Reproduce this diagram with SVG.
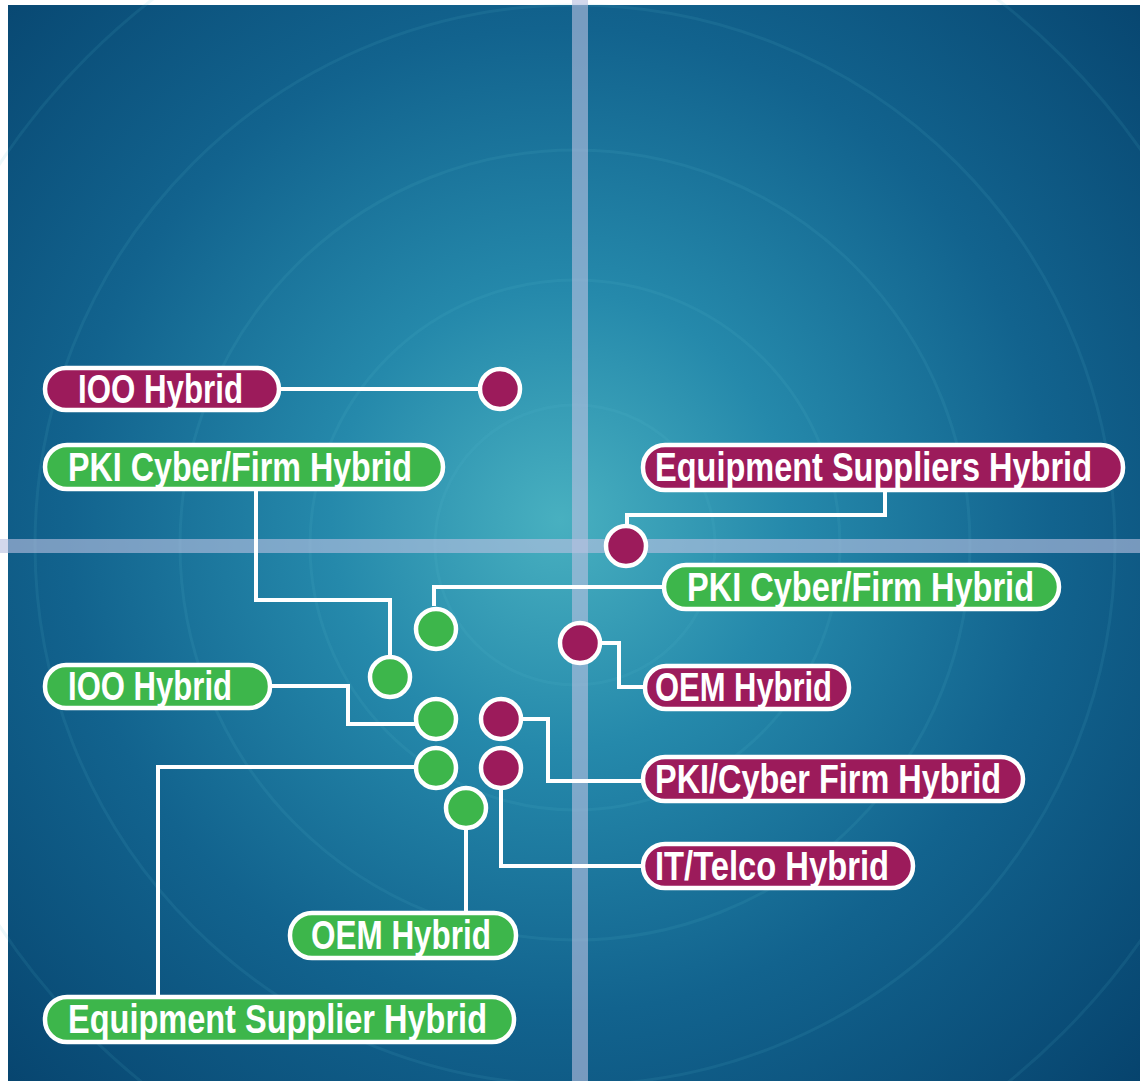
<svg xmlns="http://www.w3.org/2000/svg" width="1140" height="1081" viewBox="0 0 1140 1081">
<defs>
<radialGradient id="bg" gradientUnits="userSpaceOnUse" cx="560" cy="520" r="820">
<stop offset="0" stop-color="#48b0c0"/>
<stop offset="0.28" stop-color="#2589ab"/>
<stop offset="0.6" stop-color="#12638e"/>
<stop offset="1" stop-color="#06426c"/>
</radialGradient>
<style>
.ring{fill:none;stroke:#5cc0d6;stroke-opacity:0.11;stroke-width:3}
.bar{fill:#b8c0e0;fill-opacity:0.62}
.p{fill:#9c1b5b;stroke:#ffffff;stroke-width:4.5}
.g{fill:#3db64b;stroke:#ffffff;stroke-width:4.5}
.t{fill:#ffffff;font-family:"Liberation Sans",Arial,sans-serif;font-weight:bold;font-size:40px}
.c{fill:none;stroke:#ffffff;stroke-width:4;stroke-linejoin:miter}
</style>
</defs>
<rect x="0" y="0" width="1140" height="1081" fill="#ffffff"/>
<rect x="8" y="5" width="1132" height="1076" fill="url(#bg)"/>
<g id="rings">
<circle class="ring" cx="575" cy="545" r="140"/>
<circle class="ring" cx="575" cy="545" r="265"/>
<circle class="ring" cx="575" cy="545" r="395"/>
<circle class="ring" cx="575" cy="545" r="540"/>
<circle class="ring" cx="575" cy="545" r="690"/>
</g>
<g id="axes">
<rect class="bar" x="572" y="0" width="16" height="1081"/>
<rect class="bar" x="0" y="539" width="1140" height="14"/>
</g>
<g id="connectors">
<path class="c" d="M281,389 H478"/>
<path class="c" d="M256,491 V600 H390 V655"/>
<path class="c" d="M885,492 V515 H627 V524"/>
<path class="c" d="M662,587 H434 V606"/>
<path class="c" d="M602,643 H619 V687 H643"/>
<path class="c" d="M272,686 H348 V724 H416"/>
<path class="c" d="M523,719 H548 V781 H641"/>
<path class="c" d="M501,790 V866 H641"/>
<path class="c" d="M414,767 H158 V995"/>
<path class="c" d="M466,830 V911"/>
</g>
<g id="dots">
<circle class="p" cx="500" cy="389" r="20"/>
<circle class="p" cx="626" cy="546" r="20"/>
<circle class="g" cx="436" cy="629" r="20"/>
<circle class="g" cx="390" cy="677" r="20"/>
<circle class="p" cx="580" cy="643" r="20"/>
<circle class="g" cx="436" cy="719" r="20"/>
<circle class="p" cx="501" cy="719" r="20"/>
<circle class="g" cx="436" cy="768" r="20"/>
<circle class="p" cx="501" cy="768" r="20"/>
<circle class="g" cx="466" cy="808" r="20"/>
</g>
<g id="label-ioo-purple">
<rect class="p" x="45" y="368" width="234" height="42" rx="21"/>
<text class="t" x="78" y="403" textLength="165" lengthAdjust="spacingAndGlyphs">IOO Hybrid</text>
</g>
<g id="label-pki-green-left">
<rect class="g" x="45" y="445" width="398" height="44" rx="22"/>
<text class="t" x="68" y="481" textLength="344" lengthAdjust="spacingAndGlyphs">PKI Cyber/Firm Hybrid</text>
</g>
<g id="label-equipment-suppliers-purple">
<rect class="p" x="643" y="445" width="480" height="45" rx="22"/>
<text class="t" x="655" y="481" textLength="437" lengthAdjust="spacingAndGlyphs">Equipment Suppliers Hybrid</text>
</g>
<g id="label-pki-green-right">
<rect class="g" x="664" y="565" width="395" height="44" rx="22"/>
<text class="t" x="687" y="601" textLength="347" lengthAdjust="spacingAndGlyphs">PKI Cyber/Firm Hybrid</text>
</g>
<g id="label-oem-purple">
<rect class="p" x="645" y="666" width="204" height="43" rx="21"/>
<text class="t" x="655" y="701" textLength="177" lengthAdjust="spacingAndGlyphs">OEM Hybrid</text>
</g>
<g id="label-ioo-green">
<rect class="g" x="45" y="665" width="225" height="43" rx="21"/>
<text class="t" x="68" y="700" textLength="164" lengthAdjust="spacingAndGlyphs">IOO Hybrid</text>
</g>
<g id="label-pki-cyber-purple">
<rect class="p" x="643" y="757" width="380" height="44" rx="22"/>
<text class="t" x="655" y="793" textLength="346" lengthAdjust="spacingAndGlyphs">PKI/Cyber Firm Hybrid</text>
</g>
<g id="label-it-telco-purple">
<rect class="p" x="643" y="844" width="270" height="44" rx="22"/>
<text class="t" x="655" y="880" textLength="234" lengthAdjust="spacingAndGlyphs">IT/Telco Hybrid</text>
</g>
<g id="label-oem-green">
<rect class="g" x="290" y="913" width="226" height="45" rx="22"/>
<text class="t" x="311" y="949" textLength="180" lengthAdjust="spacingAndGlyphs">OEM Hybrid</text>
</g>
<g id="label-equipment-supplier-green">
<rect class="g" x="45" y="997" width="469" height="45" rx="22"/>
<text class="t" x="68" y="1033" textLength="419" lengthAdjust="spacingAndGlyphs">Equipment Supplier Hybrid</text>
</g>
</svg>
